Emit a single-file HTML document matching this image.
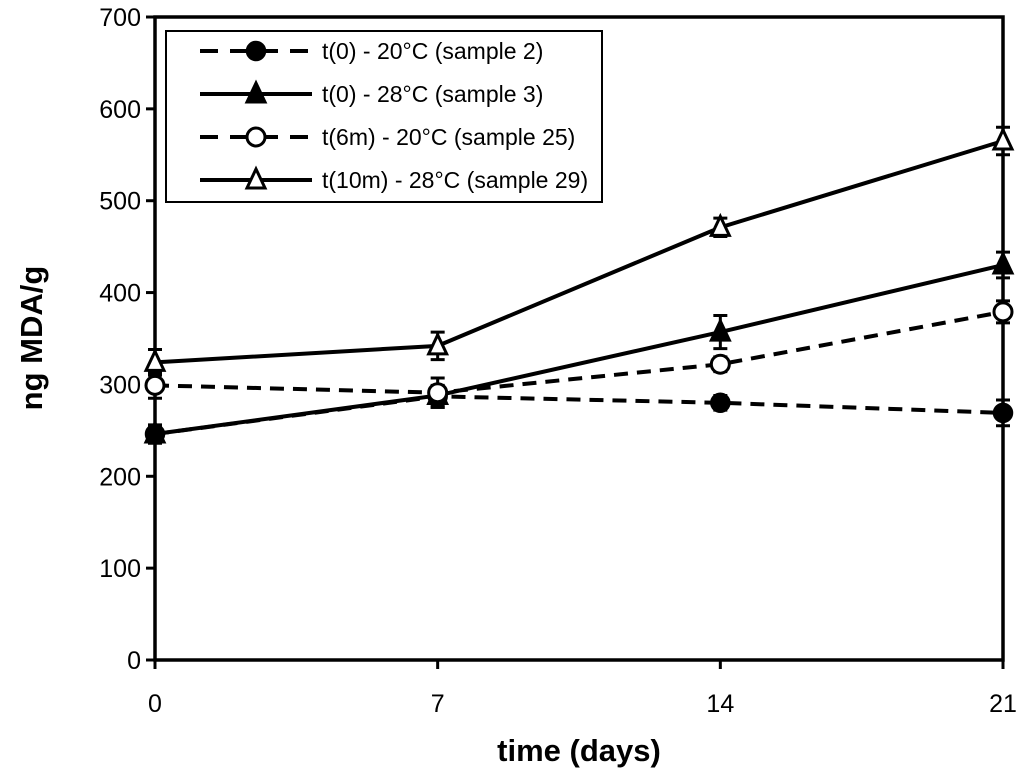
<!DOCTYPE html>
<html><head><meta charset="utf-8"><style>
body{margin:0;background:#fff;}
svg text{font-family:"Liberation Sans",sans-serif;fill:#000;}
</style></head><body>
<svg id="chart" width="1024" height="775" xmlns="http://www.w3.org/2000/svg">
<g id="plot"></g>
</svg>
<script>
const xCats=[0,7,14,21];
const yTicks=[0,100,200,300,400,500,600,700];
const s2=[246,287,280,269];
const s2err=[8,12,8,14];
const s3=[246,288,357,430];
const s3err=[10,10,18,14];
const s25=[299,291,322,379];
const s25err=[14,16,8,12];
const s29=[324,342,471,565];
const s29err=[14,15,10,15];
const seriesNames=["t(0) - 20°C (sample 2)","t(0) - 28°C (sample 3)","t(6m) - 20°C (sample 25)","t(10m) - 28°C (sample 29)"];

const NS="http://www.w3.org/2000/svg";
const X0=155,X1=1003,Y0=660,Y1=17;
const xs=v=>X0+(v-0)/21*(X1-X0);
const ys=v=>Y0-v/700*(Y0-Y1);
const g=document.getElementById('plot');
function mk(tag,attrs,parent){const e=document.createElementNS(NS,tag);for(const k in attrs)e.setAttribute(k,attrs[k]);(parent||g).appendChild(e);return e;}

let ax=mk('path',{d:`M${X0} ${Y1}H${X1}V${Y0}H${X0}Z`,fill:'none',stroke:'#000','stroke-width':3.5});


yTicks.forEach(t=>{
  let l=mk('line',{x1:X0-9,x2:X0,y1:ys(t),y2:ys(t),stroke:'#000','stroke-width':3});
  
  
  let tx=mk('text',{x:X0-14,y:ys(t)+9,'text-anchor':'end','font-size':25});
  tx.textContent=t;
  
  
});
xCats.forEach(c=>{
  let l=mk('line',{x1:xs(c),x2:xs(c),y1:Y0,y2:Y0+9,stroke:'#000','stroke-width':3});
  
  
  let tx=mk('text',{x:xs(c),y:712,'text-anchor':'middle','font-size':25});
  tx.textContent=c;
  
  
});
let xt=mk('text',{x:579,y:761,'text-anchor':'middle','font-size':31,'font-weight':'bold'});
xt.textContent='time (days)';


let yt=mk('text',{x:0,y:0,'text-anchor':'middle','font-size':31,'font-weight':'bold',transform:'translate(42,338) rotate(-90)'});
yt.textContent='ng MDA/g';



function marker(type,cx,cy,parent){
  let e;
  if(type==='fc')e=mk('circle',{cx,cy,r:9,fill:'#000',stroke:'#000','stroke-width':2.5},parent);
  else if(type==='oc')e=mk('circle',{cx,cy,r:9,fill:'#fff',stroke:'#000','stroke-width':3},parent);
  else{const f=type==='ft'?'#000':'#fff';e=mk('polygon',{points:`${cx},${cy-11} ${cx+9},${cy+8} ${cx-9},${cy+8}`,fill:f,stroke:'#000','stroke-width':3},parent);}
  return e;
}
const defs=[[s2,s2err,'fc','14 9'],[s3,s3err,'ft',null],[s25,s25err,'oc','14 9'],[s29,s29err,'ot',null]];
const names=['series-sample-2','series-sample-3','series-sample-25','series-sample-29'];
defs.forEach((d,i)=>{
  const [vals,errs,mt,dash]=d;
  const sg=mk('g',{});
  
  
  const pl=mk('polyline',{points:vals.map((v,j)=>xs(xCats[j])+','+ys(v)).join(' '),fill:'none',stroke:'#000','stroke-width':4},sg);
  if(dash)pl.setAttribute('stroke-dasharray',dash);
  
  
  vals.forEach((v,j)=>{
    const x=xs(xCats[j]);
    const eb=mk('path',{d:`M${x} ${ys(v-errs[j])}V${ys(v+errs[j])}M${x-7} ${ys(v-errs[j])}h14M${x-7} ${ys(v+errs[j])}h14`,stroke:'#000','stroke-width':3,fill:'none'},sg);
    
    
    const m=marker(mt,x,ys(v),sg);
    
    
  });
});

const lg=mk('g',{});


let lb=mk('rect',{x:166,y:31,width:436,height:171,fill:'#fff',stroke:'#000','stroke-width':2},lg);


defs.forEach((d,i)=>{
  const y=51+i*43;
  const eg=mk('g',{},lg);
  
  
  const ln=mk('line',{x1:200,x2:312,y1:y,y2:y,stroke:'#000','stroke-width':4},eg);
  if(d[3])ln.setAttribute('stroke-dasharray','18 12');
  marker(d[2],256,y,eg);
  const t=mk('text',{x:322,y:y+8,'font-size':23},eg);
  t.textContent=seriesNames[i];
});
</script>
</body></html>
